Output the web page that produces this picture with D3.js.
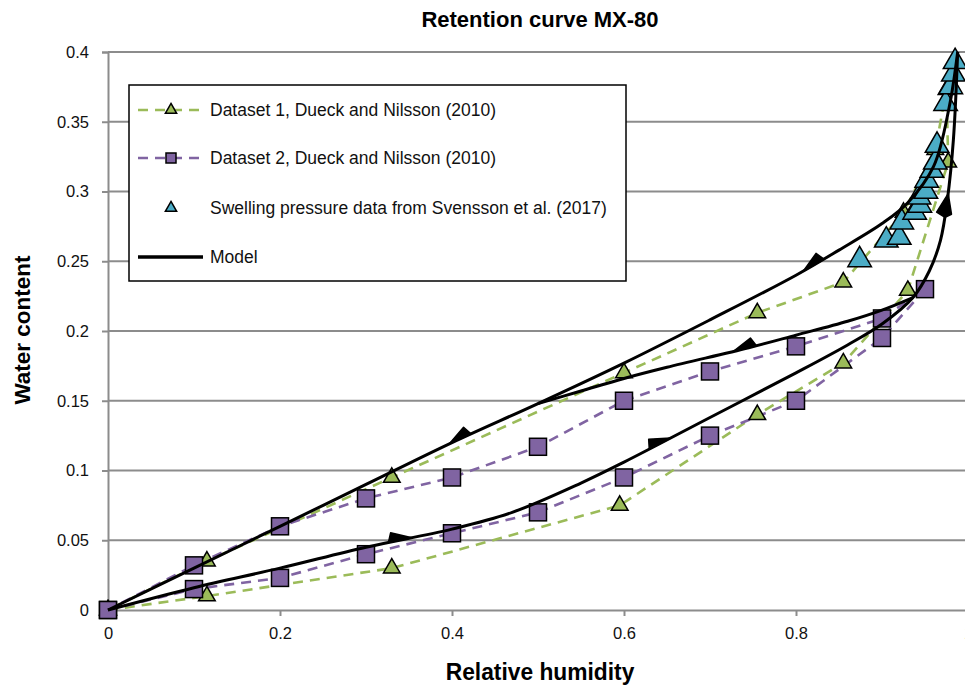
<!DOCTYPE html>
<html>
<head>
<meta charset="utf-8">
<script src="https://cdn.jsdelivr.net/npm/d3@7"></script>
<style>
  body { margin: 0; background: #fff; }
  svg { display: block; font-family: "Liberation Sans", Arial, sans-serif; }
  .tick text { font-size: 16.5px; }
</style>
</head>
<body>
<svg id="chart" width="965" height="688"></svg>
<script>
// Dataset 1, Dueck and Nilsson (2010) - adsorption then desorption
const ds1Rh = [0, 0.115, 0.33, 0.595, 0.755, 0.855, 0.93, 0.977, 0.975, 0.962, 0.925, 0.855, 0.755, 0.6, 0.33, 0.115, 0];
const ds1W  = [0, 0.01, 0.03, 0.075, 0.14, 0.177, 0.229, 0.321, 0.373, 0.33, 0.285, 0.235, 0.213, 0.17, 0.095, 0.035, 0];

// Dataset 2, Dueck and Nilsson (2010)
const ds2Rh = [0, 0.1, 0.2, 0.3, 0.4, 0.5, 0.6, 0.7, 0.8, 0.9, 0.95, 0.9, 0.8, 0.7, 0.6, 0.5, 0.4, 0.3, 0.2, 0.1, 0];
const ds2W  = [0, 0.015, 0.023, 0.04, 0.055, 0.07, 0.095, 0.125, 0.15, 0.195, 0.23, 0.209, 0.189, 0.171, 0.15, 0.117, 0.095, 0.08, 0.06, 0.032, 0];

// Swelling pressure data from Svensson et al. (2017)
const svRh = [0.874, 0.905, 0.92, 0.923, 0.938, 0.944, 0.943, 0.951, 0.952, 0.958, 0.962, 0.964, 0.974, 0.98, 0.983, 0.985];
const svW  = [0.251, 0.265, 0.267, 0.278, 0.285, 0.29, 0.296, 0.3, 0.308, 0.315, 0.321, 0.333, 0.363, 0.375, 0.384, 0.393];

// Model curves
const modelARh = [0, 0.1, 0.2, 0.3, 0.4, 0.5, 0.6, 0.7, 0.8, 0.85, 0.9, 0.93, 0.96, 0.978, 0.988];
const modelAW  = [0, 0.03, 0.06, 0.09, 0.12, 0.148, 0.177, 0.208, 0.24, 0.258, 0.277, 0.292, 0.318, 0.36, 0.4];
const modelBRh = [0.936, 0.9, 0.86, 0.8, 0.745, 0.65, 0.6, 0.55, 0.5];
const modelBW  = [0.224, 0.215, 0.207, 0.197, 0.188, 0.174, 0.166, 0.157, 0.148];
const modelCRh = [0, 0.1, 0.2, 0.3, 0.4, 0.47, 0.55, 0.6, 0.7, 0.8, 0.86, 0.9, 0.936, 0.955, 0.968, 0.976, 0.983, 0.988];
const modelCW  = [0, 0.016, 0.03, 0.045, 0.058, 0.07, 0.091, 0.106, 0.138, 0.17, 0.19, 0.205, 0.224, 0.243, 0.265, 0.294, 0.337, 0.4];

// arrow marks on the model curves: curve, rough position, direction
const arrowCurve = ["A", "A", "B", "C", "C", "C"];
const arrowRh    = [0.41, 0.82, 0.74, 0.34, 0.64, 0.976];
const arrowW     = [0.122, 0.248, 0.188, 0.05, 0.121, 0.29];
const arrowDir   = ["left", "left", "left", "right", "right", "up"];

const xTicks = [0, 0.2, 0.4, 0.6, 0.8, 1];
const yTicks = [0, 0.05, 0.1, 0.15, 0.2, 0.25, 0.3, 0.35, 0.4];

const green = "#9bbb59", purple = "#8064a2", teal = "#4bacc6", grid = "#8c8c8c";

const svg = d3.select("#chart");
const x = d3.scaleLinear().domain([0, 1]).range([108, 968]);
const y = d3.scaleLinear().domain([0, 0.4]).range([610, 52]);

const zip = (a, b) => a.map((v, i) => [v, b[i]]);

// horizontal gridlines
svg.append("g").selectAll("line")
  .data(yTicks.slice(1))
  .enter().append("line")
  .attr("x1", x(0)).attr("x2", x(1))
  .attr("y1", d => y(d)).attr("y2", d => y(d))
  .attr("stroke", grid).attr("stroke-width", 2);

// axes
const xAxis = svg.append("g").attr("transform", `translate(0,${y(0)})`)
  .call(d3.axisBottom(x).tickValues(xTicks).tickSize(6).tickPadding(11).tickFormat(d3.format("")));
const yAxis = svg.append("g").attr("transform", `translate(${x(0)},0)`)
  .call(d3.axisLeft(y).tickValues(yTicks).tickSize(6).tickPadding(13).tickFormat(d3.format("")));
[xAxis, yAxis].forEach(a => {
  a.attr("font-family", null).attr("font-size", 16.5);
  a.select(".domain").attr("stroke", grid).attr("stroke-width", 2);
  a.selectAll(".tick line").attr("stroke", grid).attr("stroke-width", 2);
  a.selectAll(".tick text").attr("font-size", 16.5).attr("fill", "#111");
});
yAxis.selectAll(".tick").filter(d => d === 0).select("line").remove();

// dashed data lines
const line = d3.line().x(d => x(d[0])).y(d => y(d[1]));
svg.append("path").datum(zip(ds1Rh, ds1W))
  .attr("d", line).attr("fill", "none")
  .attr("stroke", green).attr("stroke-width", 2.6).attr("stroke-dasharray", "10,7");
svg.append("path").datum(zip(ds2Rh, ds2W))
  .attr("d", line).attr("fill", "none")
  .attr("stroke", purple).attr("stroke-width", 2.6).attr("stroke-dasharray", "10,7");

// markers
const tri = (area) => d3.symbol(d3.symbolTriangle, area);
svg.append("g").selectAll("path")
  .data(zip(ds1Rh, ds1W))
  .enter().append("path")
  .attr("d", tri(120)())
  .attr("transform", d => `translate(${x(d[0])},${y(d[1])})`)
  .attr("fill", green).attr("stroke", "#000").attr("stroke-width", 1.5);
svg.append("g").selectAll("rect")
  .data(zip(ds2Rh, ds2W))
  .enter().append("rect")
  .attr("x", d => x(d[0]) - 8.5).attr("y", d => y(d[1]) - 8.5)
  .attr("width", 17).attr("height", 17)
  .attr("fill", purple).attr("stroke", "#000").attr("stroke-width", 1.5);
svg.append("g").selectAll("path")
  .data(zip(svRh, svW))
  .enter().append("path")
  .attr("d", tri(240)())
  .attr("transform", d => `translate(${x(d[0])},${y(d[1])})`)
  .attr("fill", teal).attr("stroke", "#000").attr("stroke-width", 1.5);

// model curves
const smooth = d3.line().x(d => x(d[0])).y(d => y(d[1])).curve(d3.curveCatmullRom.alpha(0.5));
const curves = {
  A: zip(modelARh, modelAW),
  B: zip(modelBRh, modelBW),
  C: zip(modelCRh, modelCW)
};
const paths = {};
Object.keys(curves).forEach(k => {
  paths[k] = svg.append("path").datum(curves[k])
    .attr("d", smooth).attr("fill", "none")
    .attr("stroke", "#000").attr("stroke-width", 3).attr("stroke-linejoin", "round");
});

// half arrowheads sitting on the curves
arrowCurve.forEach((c, i) => {
  const node = paths[c].node();
  const len = node.getTotalLength();
  const tx = x(arrowRh[i]), ty = y(arrowW[i]);
  let best = 0, bestD = Infinity;
  for (let l = 0; l <= len; l += 0.5) {
    const p = node.getPointAtLength(l);
    const dd = (p.x - tx) ** 2 + (p.y - ty) ** 2;
    if (dd < bestD) { bestD = dd; best = l; }
  }
  const p0 = node.getPointAtLength(Math.max(0, best - 3));
  const p1 = node.getPointAtLength(Math.min(len, best + 3));
  let dx = p1.x - p0.x, dy = p1.y - p0.y;
  const n = Math.hypot(dx, dy); dx /= n; dy /= n;
  const want = arrowDir[i];
  if ((want === "left" && dx > 0) || (want === "right" && dx < 0) || (want === "up" && dy > 0)) { dx = -dx; dy = -dy; }
  const p = node.getPointAtLength(best);
  // normal pointing to the upper-left side
  let nx = dy, ny = -dx;
  if (ny > 0 || (want === "up" && nx > 0)) { nx = -nx; ny = -ny; }
  const tip = [p.x + dx * 12, p.y + dy * 12];
  const back = [p.x - dx * 12, p.y - dy * 12];
  const top = [p.x - dx * 8 + nx * 9, p.y - dy * 8 + ny * 9];
  const full = [p.x - dx * 8 - nx * 6, p.y - dy * 8 - ny * 6];
  svg.append("path")
    .attr("d", d3.line()(want === "up" ? [tip, top, back, full] : [tip, top, back]) + "Z")
    .attr("fill", "#000").attr("stroke", "#000").attr("stroke-width", 1.5)
    .attr("stroke-linejoin", "round");
});

// legend
const lg = svg.append("g");
lg.append("rect").attr("x", 129).attr("y", 85).attr("width", 497).attr("height", 196)
  .attr("fill", "#fff").attr("stroke", "#000").attr("stroke-width", 1.5);
const legendRows = [
  { label: "Dataset 1, Dueck and Nilsson (2010)", color: green, mark: "tri", dash: true },
  { label: "Dataset 2, Dueck and Nilsson (2010)", color: purple, mark: "sq", dash: true },
  { label: "Swelling pressure data from Svensson et al. (2017)", color: teal, mark: "tri", dash: false },
  { label: "Model", color: "#000", mark: null, dash: false }
];
const rowY = [110, 158, 208, 257];
legendRows.forEach((r, i) => {
  const ly = rowY[i];
  if (r.dash) {
    lg.append("line").attr("x1", 138).attr("x2", 203).attr("y1", ly).attr("y2", ly)
      .attr("stroke", r.color).attr("stroke-width", 2.6).attr("stroke-dasharray", "10,7");
  } else if (!r.mark) {
    lg.append("line").attr("x1", 138).attr("x2", 203).attr("y1", ly).attr("y2", ly)
      .attr("stroke", "#000").attr("stroke-width", 3.5);
  }
  if (r.mark === "tri") {
    lg.append("path").attr("d", tri(55)()).attr("transform", `translate(171,${ly})`)
      .attr("fill", r.color).attr("stroke", "#000").attr("stroke-width", 1.5);
  } else if (r.mark === "sq") {
    lg.append("rect").attr("x", 166).attr("y", ly - 5).attr("width", 10).attr("height", 10)
      .attr("fill", r.color).attr("stroke", "#000").attr("stroke-width", 1.5);
  }
  lg.append("text").attr("x", 210).attr("y", ly).attr("dy", "0.35em")
    .attr("font-size", 17.5).attr("fill", "#111").text(r.label);
});

// titles
svg.append("text").attr("x", 540).attr("y", 27).attr("text-anchor", "middle")
  .attr("font-size", 22).attr("font-weight", "bold").text("Retention curve MX-80");
svg.append("text").attr("transform", "translate(540,680) scale(0.95,1)").attr("text-anchor", "middle")
  .attr("font-size", 24).attr("font-weight", "bold")
  .text("Relative humidity");
svg.append("text").attr("transform", "translate(30,330) rotate(-90)").attr("text-anchor", "middle")
  .attr("font-size", 22.5).attr("font-weight", "bold").text("Water content");
</script>
</body>
</html>
